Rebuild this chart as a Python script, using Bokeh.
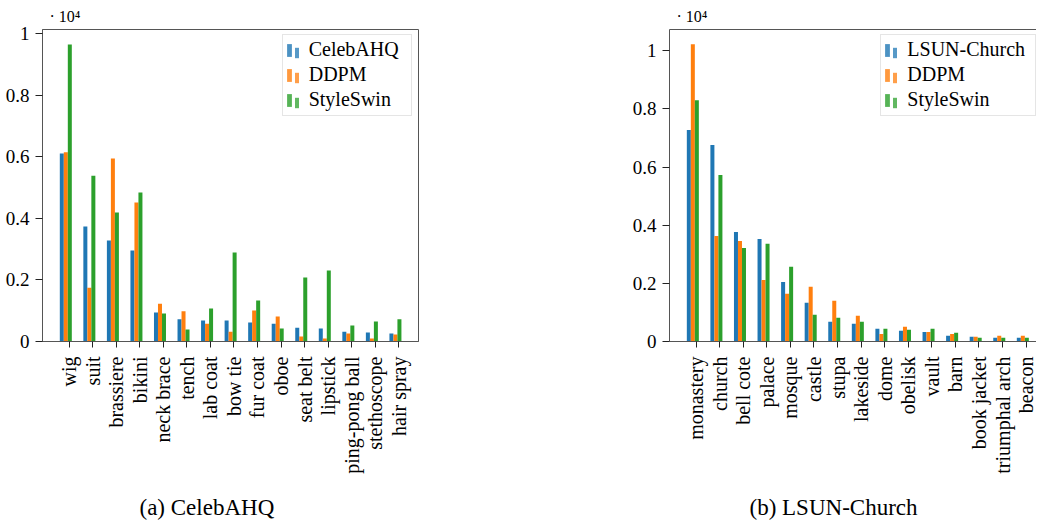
import numpy as np
from bokeh.plotting import figure
from bokeh.models import (ColumnDataSource, Range1d, FixedTicker, Legend,
                          LegendItem, LinearAxis, Title)
from bokeh.layouts import row, column
from bokeh.transform import dodge
from bokeh.embed import file_html
from bokeh.resources import INLINE

# ---------------- data ----------------
celeba_classes = ["wig", "suit", "brassiere", "bikini", "neck brace", "tench", "lab coat",
                  "bow tie", "fur coat", "oboe", "seat belt", "lipstick", "ping-pong ball",
                  "stethoscope", "hair spray"]
celeba_real = [6110, 3740, 3280, 2960, 940, 720, 680, 680, 620, 580, 450, 420, 320, 290, 260]
celeba_ddpm = [6150, 1750, 5950, 4520, 1230, 980, 580, 320, 1010, 810, 160, 100, 260, 100, 230]
celeba_styleswin = [9650, 5390, 4190, 4840, 910, 390, 1070, 2890, 1330, 420, 2080, 2310, 520, 650, 720]

church_classes = ["monastery", "church", "bell cote", "palace", "mosque", "castle", "stupa",
                  "lakeside", "dome", "obelisk", "vault", "barn", "book jacket",
                  "triumphal arch", "beacon"]
church_real = [7280, 6760, 3770, 3530, 2050, 1330, 680, 610, 440, 370, 330, 200, 160, 130, 130]
church_ddpm = [10230, 3630, 3460, 2120, 1640, 1880, 1400, 890, 260, 510, 330, 260, 160, 200, 200]
church_styleswin = [8300, 5730, 3220, 3360, 2570, 920, 820, 680, 440, 400, 440, 300, 130, 130, 130]

y_ticks = [0, 0.2, 0.4, 0.6, 0.8, 1.0]
y_tick_labels = ["0", "0.2", "0.4", "0.6", "0.8", "1"]

COLORS = ["#1f77b4", "#ff7f0e", "#2ca02c"]
FONT = "Liberation Serif"
AXIS_COLOR = "#555555"


def make_chart(classes, real, ddpm, sw, names, caption, cap_offset, x_end, y_end,
               border_left, border_top, border_bottom, border_right, frame_w, boxed,
               legend_loc, legend_label_w):
    p = figure(output_backend="svg", toolbar_location=None, title=None,
               frame_width=frame_w, frame_height=312,
               min_border_left=border_left, min_border_right=border_right,
               min_border_top=border_top, min_border_bottom=border_bottom,
               x_range=Range1d(-1.13, x_end), y_range=Range1d(0, y_end))
    p.background_fill_color = "white"
    p.border_fill_color = "white"
    p.grid.visible = False

    src = ColumnDataSource(dict(
        x=np.arange(len(classes)),
        real=np.array(real) / 1e4,
        ddpm=np.array(ddpm) / 1e4,
        sw=np.array(sw) / 1e4,
    ))
    w = 0.17
    for col, off, c in (("real", -0.31, COLORS[0]), ("ddpm", -0.14, COLORS[1]),
                        ("sw", 0.03, COLORS[2])):
        p.vbar(x=dodge("x", off), top=col, width=w, source=src,
               fill_color=c, line_color=None)

    # axes
    xa = p.below[0]
    xa.ticker = FixedTicker(ticks=list(range(len(classes))))
    xa.major_label_overrides = {i: n for i, n in enumerate(classes)}
    xa.major_label_orientation = np.pi / 2
    xa.major_label_text_font = FONT
    xa.major_label_text_font_size = "20px"
    xa.major_label_text_color = "black"
    xa.major_tick_out = 6
    xa.major_tick_in = 0
    xa.major_label_standoff = 9
    xa.minor_tick_line_color = None
    xa.axis_line_color = AXIS_COLOR
    xa.major_tick_line_color = "#222222"
    # blank spacer between the tick labels and the caption
    xa.axis_label = "\u00a0"
    xa.axis_label_text_font_size = "12px"
    xa.axis_label_standoff = 1

    ya = p.left[0]
    ya.ticker = FixedTicker(ticks=y_ticks)
    ya.major_label_overrides = {t: l for t, l in zip(y_ticks, y_tick_labels)}
    ya.major_label_text_font = FONT
    ya.major_label_text_font_size = "19px"
    ya.major_label_text_color = "black"
    ya.major_tick_out = 7
    ya.major_tick_in = 0
    ya.major_label_standoff = 6
    ya.minor_tick_line_color = None
    ya.axis_line_color = AXIS_COLOR
    ya.major_tick_line_color = "#222222"

    if boxed:
        p.outline_line_color = AXIS_COLOR
        p.outline_line_width = 1
    else:
        p.outline_line_color = None
        top = LinearAxis(ticker=FixedTicker(ticks=[]), major_label_text_font_size="0px",
                         axis_line_color=AXIS_COLOR, major_tick_line_color=None,
                         minor_tick_line_color=None, major_tick_out=0, major_tick_in=0,
                         major_label_standoff=0)
        p.add_layout(top, "above")

    # multiplier above the frame, caption below the tick labels
    p.add_layout(Title(text="· 10⁴", align="left", offset=7, standoff=10,
                       vertical_align="bottom", text_font=FONT, text_font_size="16px",
                       text_font_style="normal", text_color="black"), "above")
    p.add_layout(Title(text=caption, align="left", offset=cap_offset, standoff=0,
                       vertical_align="top", text_font=FONT, text_font_size="23px",
                       text_font_style="normal", text_color="black"), "below")

    # legend: two small bars per entry, as in the original (zero-height bars, legend only)
    dummies_a, dummies_b = [], []
    for c in COLORS:
        dummies_a.append(p.vbar(x="x", top=0, width=w, source=src, fill_color=c,
                                fill_alpha=0.8, line_color=None))
        dummies_b.append(p.vbar(x="x", top=0, width=w, source=src, fill_color=c,
                                fill_alpha=0.75, line_color=None))
    common = dict(label_text_font=FONT, label_text_font_size="20px", label_height=24,
                  label_text_color="black", spacing=1, padding=3, margin=0)
    leg_a = Legend(items=[LegendItem(label=n, renderers=[r]) for n, r in zip(names, dummies_a)],
                   location=legend_loc, glyph_width=6, glyph_height=16, label_standoff=17,
                   label_width=legend_label_w,
                   border_line_color="#cccccc", border_line_width=1,
                   background_fill_color="white", background_fill_alpha=1, **common)
    leg_b = Legend(items=[LegendItem(label=" ", renderers=[r]) for r in dummies_b],
                   location=(legend_loc[0] + 12, legend_loc[1] + 1), glyph_width=5,
                   glyph_height=13, label_standoff=0, border_line_color=None,
                   background_fill_alpha=0, **common)
    p.add_layout(leg_a, "center")
    p.add_layout(leg_b, "center")
    return p


p1 = make_chart(celeba_classes, celeba_real, celeba_ddpm, celeba_styleswin,
                ["CelebAHQ", "DDPM", "StyleSwin"], "(a) CelebAHQ", 97, 14.84, 1.014,
                42, 22, 177, 182, 376, True, (239.7, 225.5), 99)
p2 = make_chart(church_classes, church_real, church_ddpm, church_styleswin,
                ["LSUN-Church", "DDPM", "StyleSwin"], "(b) LSUN-Church", 80, 14.44, 1.0735,
                69, 22, 177, 0, 367, False, (211.3, 225.5), 125)

layout = row(column(p1), column(p2))
open("out.html", "w").write(file_html(layout, INLINE))
